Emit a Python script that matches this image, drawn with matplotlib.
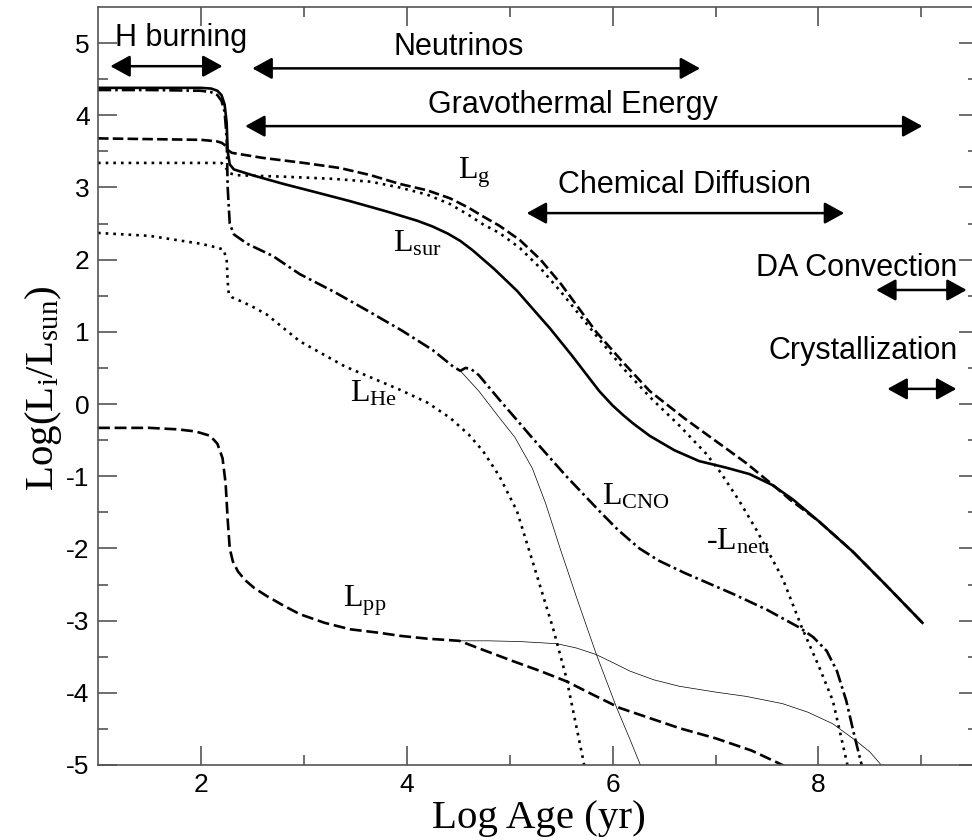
import numpy as np
import matplotlib
matplotlib.use("Agg")
import matplotlib.pyplot as plt

plt.rcParams['font.family'] = ['Liberation Sans', 'DejaVu Sans']
plt.rcParams['mathtext.fontset'] = 'custom'
plt.rcParams['mathtext.rm'] = 'Liberation Serif'
plt.rcParams['mathtext.it'] = 'Liberation Serif:italic'

# luminosity contributions, log L/Lsun against log age (yr)
sur_x = [1.0, 1.5, 2.0, 2.1, 2.16, 2.2, 2.23, 2.25, 2.26, 2.28, 2.32, 2.5, 2.8, 3.1, 3.45, 3.8,
         4.1, 4.25, 4.4, 4.52, 4.64, 4.85, 5.07, 5.39, 5.6, 5.87, 6.0, 6.1, 6.2, 6.36, 6.6,
         6.84, 7.1, 7.33, 7.55, 7.75, 8.0, 8.33, 8.65, 9.01]
sur_y = [4.38, 4.38, 4.38, 4.37, 4.34, 4.28, 4.15, 3.9, 3.5, 3.32, 3.25, 3.17, 3.05, 2.94, 2.81,
         2.67, 2.54, 2.46, 2.36, 2.26, 2.13, 1.87, 1.57, 1.05, 0.68, 0.18, -0.02, -0.15, -0.27,
         -0.44, -0.64, -0.79, -0.88, -0.97, -1.12, -1.32, -1.62, -2.04, -2.5, -3.03]

g_x = [1.0, 1.5, 2.0, 2.15, 2.2, 2.24, 2.26, 2.3, 2.6, 3.0, 3.35, 3.65, 3.93, 4.2, 4.42, 4.6,
       4.74, 4.9, 5.1, 5.3, 5.5, 5.84, 6.1, 6.36, 6.7, 7.0, 7.3, 7.59, 7.72, 8.0, 8.33,
       8.65, 9.01]
g_y = [3.68, 3.67, 3.66, 3.64, 3.62, 3.58, 3.52, 3.48, 3.41, 3.34, 3.27, 3.17, 3.05, 2.96, 2.85,
       2.72, 2.6, 2.47, 2.27, 2.0, 1.66, 1.0, 0.58, 0.18, -0.2, -0.51, -0.82, -1.16, -1.32,
       -1.62, -2.04, -2.5, -3.03]

neu_x = [1.0, 2.0, 2.2, 2.24, 2.27, 2.35, 2.8, 3.28, 3.65, 3.93, 4.2, 4.42, 4.6, 4.74, 4.9,
         5.1, 5.3, 5.5, 5.84, 6.1, 6.36, 6.65, 6.91, 7.05, 7.23, 7.4, 7.65, 7.84, 8.0, 8.14,
         8.28, 8.33]
neu_y = [3.34, 3.34, 3.34, 3.28, 3.2, 3.17, 3.15, 3.12, 3.08, 3.0, 2.9, 2.77, 2.62, 2.49, 2.37,
         2.16, 1.88, 1.55, 0.95, 0.5, 0.1, -0.3, -0.69, -0.95, -1.34, -1.75, -2.41, -3.1, -3.62,
         -4.11, -4.99, -5.3]

cno_x = [1.0, 1.5, 2.0, 2.1, 2.16, 2.2, 2.23, 2.25, 2.26, 2.28, 2.32, 2.45, 2.7, 2.96, 3.3,
         3.61, 3.95, 4.25, 4.45, 4.52, 4.57, 4.62, 4.7, 4.9, 5.22, 5.55, 5.87, 6.05, 6.26, 6.45,
         6.7, 7.17, 7.5, 7.82, 7.95, 8.08, 8.18, 8.27, 8.35, 8.42, 8.46]
cno_y = [4.35, 4.35, 4.34, 4.32, 4.28, 4.2, 4.05, 3.7, 3.0, 2.5, 2.35, 2.22, 2.05, 1.8, 1.55,
         1.3, 1.02, 0.75, 0.52, 0.46, 0.5, 0.49, 0.4, 0.06, -0.47, -1.0, -1.48, -1.74, -2.0,
         -2.17, -2.34, -2.63, -2.85, -3.1, -3.23, -3.42, -3.7, -4.11, -4.6, -5.0, -5.3]

cno2_x = [4.52, 4.7, 4.9, 5.05, 5.22, 5.35, 5.49, 5.65, 5.84, 6.04, 6.17, 6.27, 6.33]
cno2_y = [0.46, 0.18, -0.19, -0.46, -0.89, -1.38, -2.0, -2.68, -3.46, -4.21, -4.65, -5.0, -5.2]

he_x = [1.0, 1.5, 2.0, 2.15, 2.22, 2.25, 2.26, 2.27, 2.3, 2.38, 2.5, 2.64, 2.96, 3.4, 3.93,
        4.2, 4.42, 4.6, 4.74, 4.9, 5.07, 5.22, 5.42, 5.55, 5.71, 5.75]
he_y = [2.37, 2.33, 2.22, 2.17, 2.14, 2.0, 1.7, 1.53, 1.48, 1.43, 1.35, 1.24, 0.87, 0.52, 0.2,
        0.02, -0.19, -0.42, -0.65, -1.0, -1.48, -2.17, -3.1, -3.79, -4.9, -5.2]

pp_x = [1.0, 1.5, 1.77, 1.95, 2.09, 2.16, 2.21, 2.24, 2.26, 2.28, 2.31, 2.36, 2.43, 2.52, 2.64,
        2.8, 2.96, 3.2, 3.45, 3.74, 3.93, 4.2, 4.51, 4.75, 5.03, 5.3, 5.55, 5.8, 6.07, 6.36,
        6.65, 7.0, 7.35, 7.65, 7.85]
pp_y = [-0.33, -0.33, -0.35, -0.38, -0.44, -0.55, -0.75, -1.1, -1.6, -2.0, -2.18, -2.32, -2.44,
        -2.55, -2.66, -2.79, -2.91, -3.03, -3.12, -3.17, -3.21, -3.25, -3.28, -3.41, -3.56,
        -3.7, -3.84, -4.02, -4.21, -4.35, -4.49, -4.63, -4.8, -5.0, -5.15]

pp2_x = [4.51, 4.8, 5.1, 5.46, 5.65, 5.84, 6.0, 6.17, 6.4, 6.65, 7.0, 7.3, 7.65, 7.9, 8.14,
         8.37, 8.5, 8.61, 8.7]
pp2_y = [-3.28, -3.28, -3.29, -3.32, -3.38, -3.47, -3.58, -3.7, -3.82, -3.91, -3.99, -4.05,
         -4.15, -4.27, -4.43, -4.67, -4.82, -5.0, -5.15]

# phases: label, start, end, arrow height
phases = ['H burning', 'Neutrinos', 'Gravothermal Energy', 'Chemical Diffusion',
          'DA Convection', 'Crystallization']
phase_start = [1.12, 2.5, 2.43, 5.165, 8.56, 8.67]
phase_end = [2.21, 6.85, 9.01, 8.25, 9.44, 9.34]
phase_y = [4.68, 4.65, 3.85, 2.645, 1.58, 0.21]
phase_text_x = [1.81, 4.5, 5.61, 6.7, 8.37, 8.43]
phase_text_y = [4.96, 4.83, 4.03, 2.92, 1.77, 0.62]

fig = plt.figure(figsize=(9.72, 8.4), dpi=100)
ax = fig.add_axes([98/972, 1 - 765/840, 880/972, 758/840])

lw = 1.9
ax.plot(sur_x, sur_y, color='k', lw=lw, solid_joinstyle='round')
ax.plot(g_x, g_y, color='k', lw=lw, dashes=(4, 1.6))
ax.plot(neu_x, neu_y, color='k', lw=lw, dashes=(1, 1.9))
ax.plot(cno_x, cno_y, color='k', lw=lw, dashes=(5, 1.5, 1, 1.5))
ax.plot(he_x, he_y, color='k', lw=lw, dashes=(1, 1.9))
ax.plot(pp_x, pp_y, color='k', lw=lw, dashes=(4.5, 1.8))
ax.plot(cno2_x, cno2_y, color='k', lw=0.5)
ax.plot(pp2_x, pp2_y, color='k', lw=0.5)

serif = 'Liberation Serif'
lab_kw = dict(family=serif, fontsize=23, va='baseline', ha='left')
ax.text(4.495, 3.13, r'L$_{\mathrm{g}}$', **lab_kw)
ax.text(3.864, 2.12, r'L$_{\mathrm{sur}}$', **lab_kw)
ax.text(3.447, 0.04, r'L$_{\mathrm{He}}$', **lab_kw)
ax.text(5.90, -1.385, r'L$_{\mathrm{CNO}}$', **lab_kw)
ax.text(6.91, -2.01, r'-L$_{\mathrm{neu}}$', **lab_kw)
ax.text(3.38, -2.80, r'L$_{\mathrm{pp}}$', **lab_kw)

for name, x0, x1, y, tx, ty in zip(phases, phase_start, phase_end, phase_y,
                                   phase_text_x, phase_text_y):
    ax.annotate('', xy=(x1, y), xytext=(x0, y),
                arrowprops=dict(arrowstyle='<|-|>,head_length=0.6,head_width=0.33',
                                lw=1.8, color='k', shrinkA=0, shrinkB=0,
                                mutation_scale=20))
    ax.text(tx, ty, name, fontsize=22, ha='center', va='baseline')

ax.set_xlim(1, 9.55)
ax.set_ylim(-5, 5.5)
ax.set_xticks([2, 4, 6, 8])
ax.set_xticks([3, 5, 7, 9], minor=True)
ax.set_yticks(np.arange(-5, 6, 1))
ax.set_yticks(np.arange(-4.5, 5.5, 1), minor=True)
ax.set_yticklabels([str(v) for v in range(-5, 6)])
ax.tick_params(which='both', direction='in', top=True, right=True,
               color='#555555', width=1.2, labelsize=19)
ax.tick_params(which='major', length=13.5, pad=6)
ax.tick_params(which='minor', length=7)
for sp in ax.spines.values():
    sp.set_color('#555555')
    sp.set_linewidth(1.2)

fig.text(539/972, 1 - 828/840, 'Log Age (yr)', family=serif, fontsize=29.5,
         ha='center', va='baseline')
fig.text(44/972, 1 - 388/840, r'Log(L$_{\mathrm{i}}$/L$_{\mathrm{sun}}$)', family=serif,
         fontsize=29.5, ha='center', va='center', rotation=90)

fig.savefig('out.png', dpi=100)
